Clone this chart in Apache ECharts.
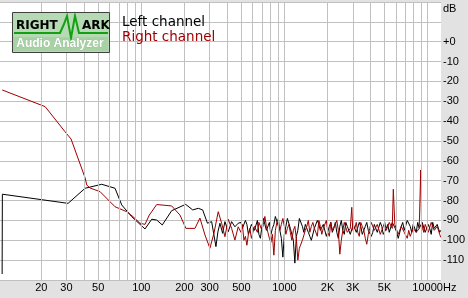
<!DOCTYPE html>
<html><head><meta charset="utf-8">
<script src="https://cdn.jsdelivr.net/npm/echarts@6/dist/echarts.min.js"></script>
<style>html,body{margin:0;padding:0;background:#e2e2e2;}#c{width:468px;height:298px;}</style>
</head><body><div id="c"></div>
<script>
// Frequencies (Hz) and levels (dB)
const leftFreq = [10.66,10.7,30.8,40.5,52.9,65.5,73.0,85.7,106.1,118.2,128.1,140.1,163,204.1,228.4,250,268.2,289.7,309.9,332.1,342.9,354.2,369.8,383.8,404.7,427.3,450.7,475.3,
 496.4,508.5,520.8,533.5,546.5,559.8,573.5,587.5,601.9,616.6,631.6,647,662.8,679.1,695.7,712.6,729.9,747.7,765.9,784.7,803.9,823.4,843.4,864,885,906.6,928.8,951.4,974.5,998.5,
 1023,1048,1073,1099,1126,1154,1182,1211,1240,1271,1302,1334,1366,1399,1433,1468,1504,1541,1579,1617,1656,1697,1739,1781,1824,1868,1914,1961,2009,2058,2108,2159,2212,2266,2321,2378,2436,2495,2556,2618,2682,2748,2815,2883,2953,3025,
 3099,3175,3253,3332,3413,3497,3583,3670,3758,3850,3944,4041,4140,4241,4344,4450,4558,4670,4784,4900,5019,5142,5267,5395,5527,5662,5800,5941,6085,6235,6388,6543,6702,6867,7035,7206,7382,7561,7745,7934,8128,8327,8530,8738,8950,9169,9393,9622,9856,10097,10344,10596,10854,11119,11390,11668,11953,12146,12343];
const leftDb = [-117,-76.8,-81.4,-73.8,-71.8,-73.8,-82.2,-88.1,-94.3,-89.4,-89.8,-92.3,-85.1,-81.9,-84.7,-83.9,-84.7,-91.4,-90.6,-103.2,-95.8,-91.4,-96.5,-90.6,-95.7,-90.6,-93.2,-91.4,
 -91,-94,-95,-90,-92,-97,-96,-92,-91,-95,-94,-90,-97,-99,-93,-89,-90,-95,-94,-91,-97,-94,-92,-88,-89,-93,-95,-99,-108.5,-97,
 -93,-89,-90,-94,-97,-100,-111.5,-98,-95,-89,-90,-93,-96,-92,-93,-96,-98,-100,-99,-94,-95,-90,-92,-95,-96,-92,-93,-98,-97,-93,-91,-96,-94,-91,-96,-99,-93,-90,-95,-97,-91,-93,-94,-97,-96,-92,
 -92,-96,-95,-91,-93,-97,-97,-93,-91,-95,-94,-98,-96,-92,-92,-96,-95,-91,-93,-97,-98,-94,-92,-96,-95,-91,-92,-94,-96,-99,-98,-93,-91,-95,-94,-90,-90,-93,-96,-92,-93,-96,-91,-94,-95,-91,-92,-96,-96,-92,-94,-97,-91,-94,-95,-92,-93,-96,-95];

const rightFreq = [10.67,21.3,29.3,32.3,40.5,41.6,43.9,51.5,65.5,79.1,87.5,97.9,106.1,113.7,128.1,163,186.2,205,237,256.8,278.3,301.5,321.6,344.6,364,383.8,404.7,427.3,450.7,475.3,
 496.4,508.5,520.8,533.5,546.5,559.8,573.5,587.5,601.9,616.6,631.6,647,662.8,679.1,695.7,712.6,729.9,747.7,765.9,784.7,803.9,823.4,843.4,864,885,906.6,928.8,951.4,974.5,998.5,
 1023,1048,1073,1099,1126,1154,1182,1211,1240,1271,1302,1334,1366,1399,1433,1468,1504,1541,1579,1617,1656,1697,1739,1781,1824,1868,1914,1961,2009,2058,2108,2159,2212,2266,2321,2378,2436,2495,2556,2618,2682,2748,2815,2883,2906,2953,3000,3025,
 3099,3175,3253,3332,3413,3497,3583,3670,3758,3850,3944,4041,4140,4241,4344,4450,4558,4670,4784,4900,5019,5142,5267,5395,5527,5662,5710,5760,5850,5900,5941,6085,6235,6388,6543,6702,6867,7035,7206,7382,7561,7745,7934,8128,8327,8530,8738,8810,8950,9090,9169,9393,9622,9856,10097,10344,10596,10854,11119,11390,11668,11953,12146,12343];
const rightDb = [-24.3,-32.7,-45.3,-49,-68.6,-72.2,-73.7,-75.5,-83.1,-85.6,-88.1,-91.4,-92,-87.3,-82,-82.7,-87.3,-94,-94,-88.8,-97.3,-104,-96.5,-85.6,-91.4,-98.2,-89.4,-94,-99.9,-93.2,
 -96,-92,-100,-98,-102.5,-97,-94,-99,-98,-93,-92,-96,-91,-90,-95,-92,-88,-93,-96,-99,-101,-97,-107.5,-95,-91,-89,-95,-92,-89,-93,
 -97,-94,-92,-96,-100,-95,-93,-99,-110,-104,-103,-100,-99,-95,-93,-90,-96,-93,-91,-94,-95,-98,-90,-93,-97,-94,-93,-90,-96,-98,-91,-95,-94,-92,-90,-95,-107,-100,-95,-91,-92,-96,-96,-94,-95,-83.4,-95,-96,
 -94,-91,-96,-98,-91,-93,-95,-99,-102,-97,-94,-91,-92,-95,-96,-92,-93,-97,-97,-93,-91,-95,-94,-91,-90,-94,-93,-74.3,-74.3,-92,-93,-93,-97,-96,-93,-92,-96,-97,-99,-95,-98,-99,-94,-93,-96,-97,-94,-95,-64.6,-95,-92,-96,-92,-93,-96,-95,-91,-92,-95,-96,-93,-94,-97,-98.5];

const gridFreqs = [20,30,40,50,60,70,80,90,100,200,300,400,500,600,700,800,900,1000,2000,3000,4000,5000,6000,7000,8000,9000,10000];
const tickFreqs = [20,30,50,100,200,300,500,1000,2000,3000,5000,10000];
const tickLabels = ['20','30','50','100','200','300','500','1000','2K','3K','5K','10000'];

const FONT = 'Liberation Sans';
const chart = echarts.init(document.getElementById('c'), null, {renderer:'canvas'});
const zip = (a,b) => a.map((v,i)=>[v,b[i]]);

const gridLineData = gridFreqs.map(f => {
  const i = tickFreqs.indexOf(f);
  const item = {xAxis: f};
  if (i >= 0) {
    item.label = {show:true, position:'start', formatter: tickLabels[i], distance: 2,
      color:'#000', fontFamily: FONT, fontSize: 11};
  }
  return item;
});

chart.setOption({
  animation:false,
  backgroundColor:'#e2e2e2',
  grid:{left:0, right:26, top:2, bottom:18, show:true, backgroundColor:'#ffffff', borderWidth:0},
  xAxis:{type:'log', logBase:10, min:10.3, max:12400,
    axisLine:{show:false}, axisTick:{show:false}, axisLabel:{show:false}, splitLine:{show:false}, minorSplitLine:{show:false}},
  yAxis:{type:'value', min:-120, max:20, interval:10, position:'right',
    axisLine:{show:false}, axisTick:{show:false},
    axisLabel:{margin:2, color:'#000', fontFamily:FONT, fontSize:11,
      formatter: v => (v > 0 || v === -120) ? '' : (v === 0 ? '+0' : String(v))},
    splitLine:{show:true, lineStyle:{color:'#c0c0c0', width:1}}},
  graphic:[
    {type:'rect', left:12, top:12, shape:{width:97, height:40}, style:{fill:'#b6dab3', stroke:'#404040', lineWidth:1}, z:10},
    {type:'rect', left:13, top:37, shape:{width:95, height:14}, style:{fill:'#a9d1a6'}, z:10},
    {type:'polyline', shape:{points:[[14,33],[60,33],[64,24],[67,16],[71,38],[75,16],[79,33],[108,33]]}, style:{stroke:'#13a013', lineWidth:2, fill:null}, z:11},
    {type:'text', left:16, top:20, style:{text:'RIGHT', font:'bold 12px "DejaVu Sans"', fill:'#000'}, z:12},
    {type:'text', left:82, top:20, style:{text:'ARK', font:'bold 12px "DejaVu Sans"', fill:'#000'}, z:12},
    {type:'text', left:16, top:37, style:{text:'Audio Analyzer', font:'bold 12px "Liberation Sans"', fill:'#ffffff', stroke:'#8fb58c', lineWidth:0.5}, z:12},
    {type:'text', left:122, top:15, style:{text:'Left channel', font:'13.5px "DejaVu Sans"', fill:'#000'}, z:12},
    {type:'text', left:122, top:30, style:{text:'Right channel', font:'13.5px "DejaVu Sans"', fill:'#a00000'}, z:12},
    {type:'text', left:443, top:3, style:{text:'dB', font:'11px "Liberation Sans"', fill:'#000'}, z:12},
    {type:'text', left:443, top:282, style:{text:'Hz', font:'11px "Liberation Sans"', fill:'#000'}, z:12}
  ],
  series:[
    {type:'line', data:[], silent:true, z:1,
      markLine:{silent:true, symbol:['none','none'], animation:false,
        lineStyle:{color:'#c0c0c0', type:'solid', width:1}, label:{show:false},
        emphasis:{disabled:true}, data: gridLineData}},
    {name:'Left channel', type:'line', data: zip(leftFreq,leftDb), showSymbol:false, symbol:'none', z:3,
      lineStyle:{color:'#000000', width:1}},
    {name:'Right channel', type:'line', data: zip(rightFreq,rightDb), showSymbol:false, symbol:'none', z:4,
      lineStyle:{color:'#a00000', width:1}}
  ]
});
</script>
</body></html>
